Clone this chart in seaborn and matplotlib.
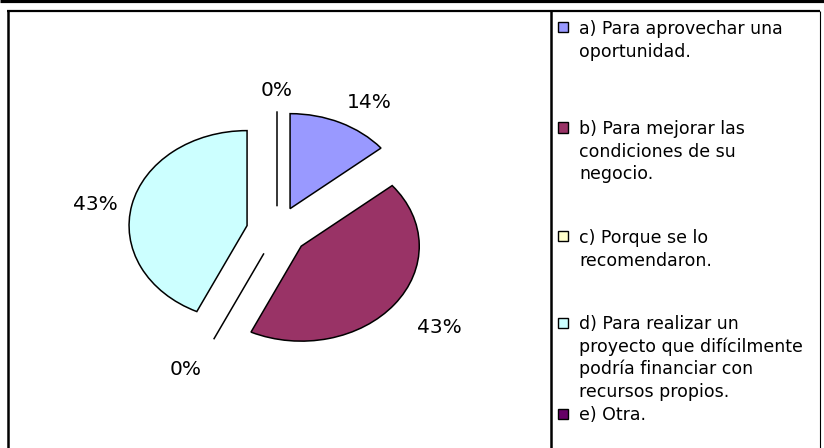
import matplotlib
matplotlib.use("Agg")
import matplotlib.pyplot as plt
import seaborn as sns
import numpy as np
from matplotlib.lines import Line2D
from matplotlib.patches import Rectangle

# Survey answers and their share of responses (%)
categories = [
    "a) Para aprovechar una\noportunidad.",
    "b) Para mejorar las\ncondiciones de su\nnegocio.",
    "c) Porque se lo\nrecomendaron.",
    "d) Para realizar un\nproyecto que difícilmente\npodría financiar con\nrecursos propios.",
    "e) Otra.",
]
shares = [14, 43, 0, 43, 0]
colors = ["#9999FF", "#993366", "#FFFFCC", "#CCFFFF", "#660066"]

sns.set_theme(style="white")
plt.rcParams["font.family"] = ["DejaVu Sans"]

W, H = 824, 448
fig = plt.figure(figsize=(W / 100, H / 100), dpi=100)
fig.patch.set_facecolor("white")


def fx(px):
    return px / W


def fy(py):
    return 1 - py / H


# Pie: squashed ellipse, every slice pulled out from the centre
ax = fig.add_axes([41 / W, 27 / H, 472 / W, 380 / H])
palette = sns.color_palette(colors)
wedges, _, pcts = ax.pie(
    shares,
    colors=palette,
    startangle=90,
    counterclock=False,
    explode=[0.26] * len(shares),
    autopct="%1.0f%%",
    pctdistance=1.3,
    wedgeprops=dict(edgecolor="black", linewidth=1.1),
    textprops=dict(fontsize=14.5, color="black"),
)
ax.set_aspect("auto")
ax.set_xlim(-2, 2)
ax.set_ylim(-2, 2)
ax.axis("off")

# Percent labels sit just outside each slice, anchored by their nearest edge
for w, t in zip(wedges, pcts):
    mid = np.deg2rad((w.theta1 + w.theta2) / 2)
    cx, cy = w.center
    c, s = np.cos(mid), np.sin(mid)
    r = w.r * (1.24 if s < -0.3 else 1.12)
    t.set_position((cx + r * c, cy + r * s))
    t.set_ha("left" if c > 0.3 else "right" if c < -0.3 else "center")
    t.set_va("bottom" if s > 0.3 else "top" if s < -0.3 else "center_baseline")

# Legend panel on the right
legend_baselines = [34, 134, 243, 329, 420]
line_step = 22.7
for label, color, base in zip(categories, colors, legend_baselines):
    fig.patches.append(Rectangle((fx(557.5), fy(base - 1.5)), 10 / W, 10 / H,
                                 transform=fig.transFigure, facecolor=color,
                                 edgecolor="black", linewidth=1.0))
    for i, line in enumerate(label.split("\n")):
        fig.text(fx(579), fy(base + i * line_step), line, fontsize=12.5,
                 ha="left", va="baseline", color="black")

# Frame lines
frame = [
    ((0, W), (1.5, 1.5), 2.3),      # heavy rule along the top
    ((7, 820), (11.5, 11.5), 1.6),  # chart frame top
    ((8.2, 8.2), (11, H), 1.8),     # chart frame left
    ((819.5, 819.5), (11, H), 0.8), # chart frame right
    ((550.5, 550.5), (11, H), 1.8), # legend divider
]
for xs, ys, lw in frame:
    fig.lines.append(Line2D([fx(x) for x in xs], [fy(y) for y in ys],
                            transform=fig.transFigure, color="black",
                            linewidth=lw, solid_capstyle="butt"))

fig.savefig("out.png", dpi=100)
